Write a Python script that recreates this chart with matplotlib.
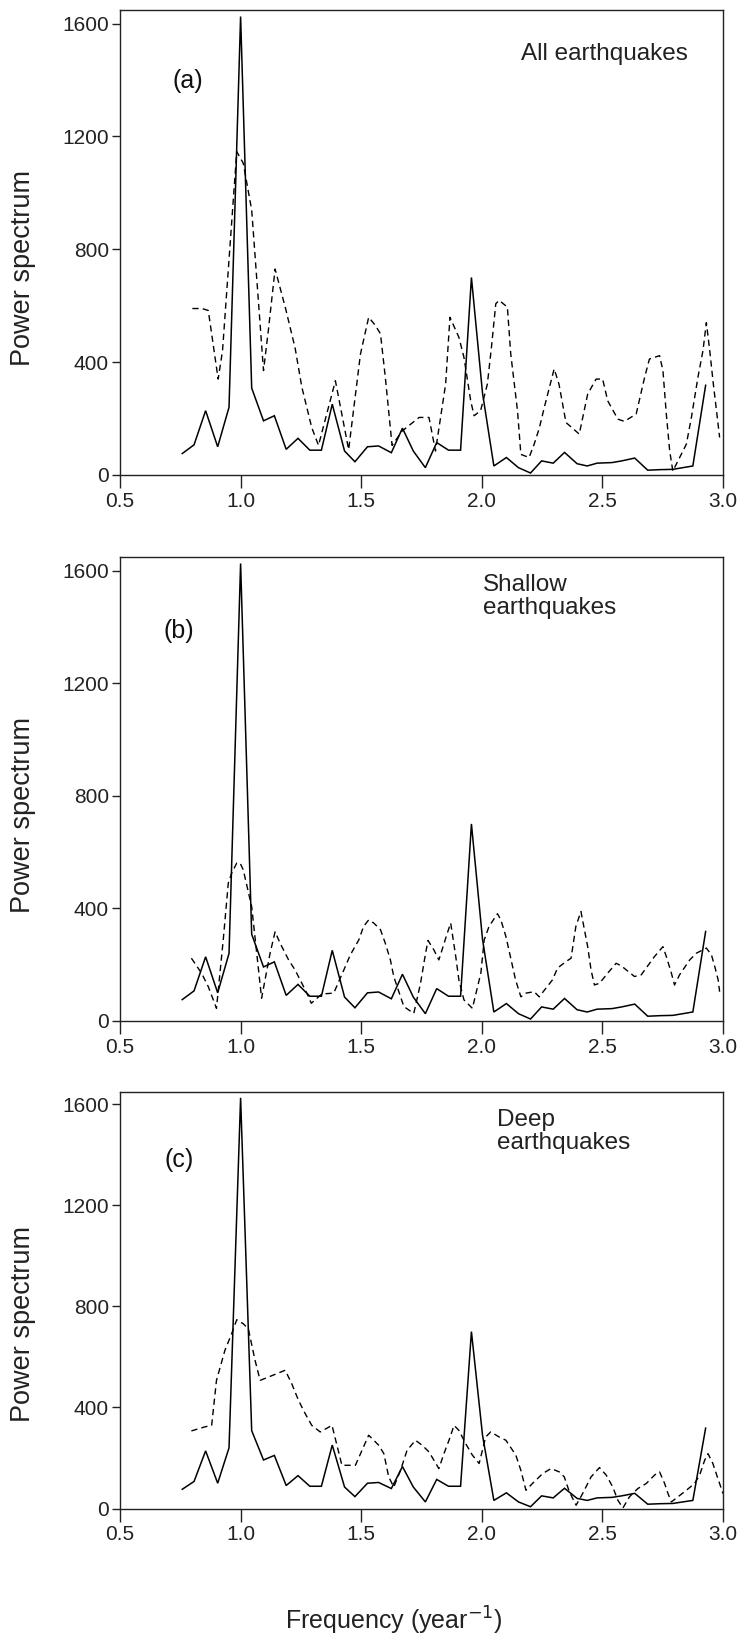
import matplotlib
matplotlib.use("Agg")
import matplotlib.pyplot as plt

plt.rcParams['font.family'] = ['Liberation Sans', 'DejaVu Sans']

# ---- data ----
solid_f = [0.758, 0.807, 0.855, 0.905, 0.952, 1.000, 1.046, 1.095, 1.140, 1.189,
           1.238, 1.287, 1.335, 1.380, 1.431, 1.474, 1.526, 1.572, 1.625, 1.671,
           1.716, 1.766, 1.813, 1.862, 1.912, 1.957, 2.003, 2.050, 2.102, 2.152,
           2.202, 2.248, 2.296, 2.343, 2.395, 2.437, 2.478, 2.540, 2.580, 2.634,
           2.688, 2.740, 2.792, 2.875, 2.928]
solid_p = [76, 107, 228, 100, 240, 1625, 308, 192, 210, 91,
           130, 88, 88, 251, 85, 47, 100, 103, 79, 166,
           85, 26, 115, 88, 88, 700, 290, 32, 62, 26,
           7, 50, 42, 80, 40, 32, 42, 44, 50, 60,
           17, 19, 20, 32, 318]

all_f = [0.800, 0.840, 0.866, 0.907, 0.925, 0.945, 0.984, 1.011, 1.046, 1.095,
         1.115, 1.143, 1.185, 1.226, 1.254, 1.295, 1.323, 1.393, 1.448, 1.497,
         1.531, 1.559, 1.580, 1.600, 1.628, 1.670, 1.705, 1.740, 1.781, 1.808,
         1.850, 1.868, 1.905, 1.926, 1.954, 1.968, 1.995, 2.023, 2.040, 2.058,
         2.072, 2.106, 2.120, 2.148, 2.162, 2.196, 2.217, 2.238, 2.259, 2.300,
         2.320, 2.349, 2.404, 2.439, 2.474, 2.501, 2.522, 2.564, 2.591, 2.640,
         2.675, 2.695, 2.737, 2.751, 2.765, 2.779, 2.792, 2.848, 2.869, 2.896,
         2.917, 2.931, 2.945, 2.960, 2.973, 2.986]
all_p = [590, 590, 583, 340, 440, 680, 1146, 1105, 939, 370,
         512, 730, 595, 450, 311, 168, 105, 334, 90, 429,
         559, 530, 500, 346, 105, 156, 180, 204, 204, 85,
         322, 559, 488, 417, 263, 210, 228, 322, 453, 607,
         619, 595, 429, 228, 73, 62, 109, 165, 239, 376,
         322, 186, 145, 287, 340, 340, 263, 198, 190, 216,
         346, 411, 423, 370, 216, 85, 14, 109, 204, 346,
         441, 540, 441, 322, 228, 133]

shallow_f = [0.796, 0.838, 0.866, 0.900, 0.928, 0.949, 0.963, 0.984, 0.998, 1.011,
             1.046, 1.087, 1.122, 1.143, 1.164, 1.199, 1.226, 1.254, 1.282, 1.293,
             1.337, 1.386, 1.434, 1.455, 1.490, 1.510, 1.531, 1.552, 1.580, 1.600,
             1.621, 1.635, 1.649, 1.677, 1.718, 1.746, 1.767, 1.777, 1.801, 1.822,
             1.857, 1.871, 1.892, 1.905, 1.926, 1.961, 1.996, 2.010, 2.030, 2.065,
             2.079, 2.100, 2.140, 2.162, 2.183, 2.217, 2.238, 2.293, 2.314, 2.349,
             2.370, 2.390, 2.411, 2.439, 2.453, 2.467, 2.488, 2.522, 2.557, 2.578,
             2.633, 2.661, 2.716, 2.751, 2.765, 2.786, 2.799, 2.820, 2.862, 2.890,
             2.917, 2.931, 2.952, 2.966, 2.980, 2.986]
shallow_p = [223, 170, 122, 45, 288, 490, 525, 561, 561, 537,
             406, 81, 240, 317, 276, 217, 181, 134, 86, 63,
             96, 99, 193, 235, 288, 336, 359, 348, 324, 276,
             217, 158, 122, 51, 27, 134, 241, 286, 253, 217,
             312, 348, 229, 146, 75, 45, 170, 288, 336, 381,
             359, 300, 146, 86, 99, 104, 86, 146, 188, 211,
             223, 336, 389, 264, 181, 128, 134, 170, 205, 196,
             158, 164, 229, 264, 229, 170, 128, 164, 217, 241,
             253, 259, 235, 193, 146, 104]

deep_f = [0.796, 0.852, 0.880, 0.900, 0.935, 0.963, 0.984, 1.011, 1.032, 1.060,
          1.081, 1.115, 1.185, 1.212, 1.240, 1.268, 1.295, 1.330, 1.379, 1.420,
          1.476, 1.531, 1.573, 1.594, 1.614, 1.635, 1.663, 1.690, 1.725, 1.753,
          1.781, 1.822, 1.843, 1.864, 1.885, 1.905, 1.933, 1.961, 1.989, 2.016,
          2.037, 2.072, 2.100, 2.141, 2.162, 2.183, 2.210, 2.252, 2.287, 2.321,
          2.342, 2.363, 2.391, 2.418, 2.453, 2.488, 2.516, 2.543, 2.564, 2.585,
          2.612, 2.647, 2.682, 2.716, 2.737, 2.758, 2.772, 2.786, 2.813, 2.848,
          2.882, 2.903, 2.924, 2.938, 2.958, 2.972, 3.000]
deep_p = [307, 323, 329, 507, 626, 692, 747, 731, 711, 586,
          507, 520, 547, 494, 428, 375, 329, 303, 329, 171,
          171, 290, 250, 217, 125, 85, 151, 230, 270, 250,
          224, 158, 217, 270, 329, 309, 257, 211, 178, 283,
          303, 283, 270, 211, 151, 72, 99, 138, 158, 145,
          125, 66, 13, 59, 125, 162, 132, 85, 33, 2,
          46, 79, 99, 132, 145, 99, 59, 26, 46, 72,
          99, 132, 191, 217, 178, 138, 59]

panel_tags = ["(a)", "(b)", "(c)"]
panel_titles = ["All earthquakes", "Shallow\nearthquakes", "Deep\nearthquakes"]
dashed_f = [all_f, shallow_f, deep_f]
dashed_p = [all_p, shallow_p, deep_p]
x_ticks = [0.5, 1.0, 1.5, 2.0, 2.5, 3.0]
x_ticklabels = ["0.5", "1.0", "1.5", "2.0", "2.5", "3.0"]
y_ticks = [0, 400, 800, 1200, 1600]

# ---- layout ----
W, H = 741, 1643
fig = plt.figure(figsize=(W / 100, H / 100), dpi=100)

# axes boxes in pixels: (left, top, right, bottom)
boxes = [(120, 10, 723, 475), (120, 557, 723, 1021), (120, 1092, 723, 1508.5)]
tag_pos = [(188, 81), (179, 631), (179, 1160)]
title_pos = [(521, 43), (483, 574), (497, 1109)]
ylabel_y = [268, 815, 1324]

for i in range(3):
    l, t, r, b = boxes[i]
    ax = fig.add_axes([l / W, 1 - b / H, (r - l) / W, (b - t) / H])
    ax.plot(solid_f, solid_p, color='black', lw=1.1, solid_joinstyle='miter')
    ax.plot(dashed_f[i], dashed_p[i], color='black', lw=1.0, dashes=(4.5, 3.0))
    ax.set_xlim(0.5, 3.0)
    ax.set_ylim(0, 1648)
    ax.set_xticks(x_ticks)
    ax.set_xticklabels(x_ticklabels)
    ax.set_yticks(y_ticks)
    ax.tick_params(axis='both', direction='out', labelsize=15, colors='#222222',
                   width=1.0)
    ax.tick_params(axis='x', length=9, pad=3)
    ax.tick_params(axis='y', length=6, pad=2)
    for s in ax.spines.values():
        s.set_color('#222222')
        s.set_linewidth(1.0)
    ax.text(tag_pos[i][0] / W, 1 - tag_pos[i][1] / H, panel_tags[i],
            transform=fig.transFigure, fontsize=18, ha='center', va='center',
            color='#111111')
    ax.text(title_pos[i][0] / W, 1 - title_pos[i][1] / H, panel_titles[i],
            transform=fig.transFigure, fontsize=17.5, ha='left', va='top',
            color='#222222', linespacing=1.05)
    fig.text(23 / W, 1 - ylabel_y[i] / H, "Power spectrum", rotation=90,
             ha='center', va='center', fontsize=19.5, color='#222222')

fig.text(394 / W, 1 - 1621 / H, "Frequency (year$^{-1}$)", ha='center',
         va='center', fontsize=18, color='#222222')

fig.savefig("out.png", dpi=100)
